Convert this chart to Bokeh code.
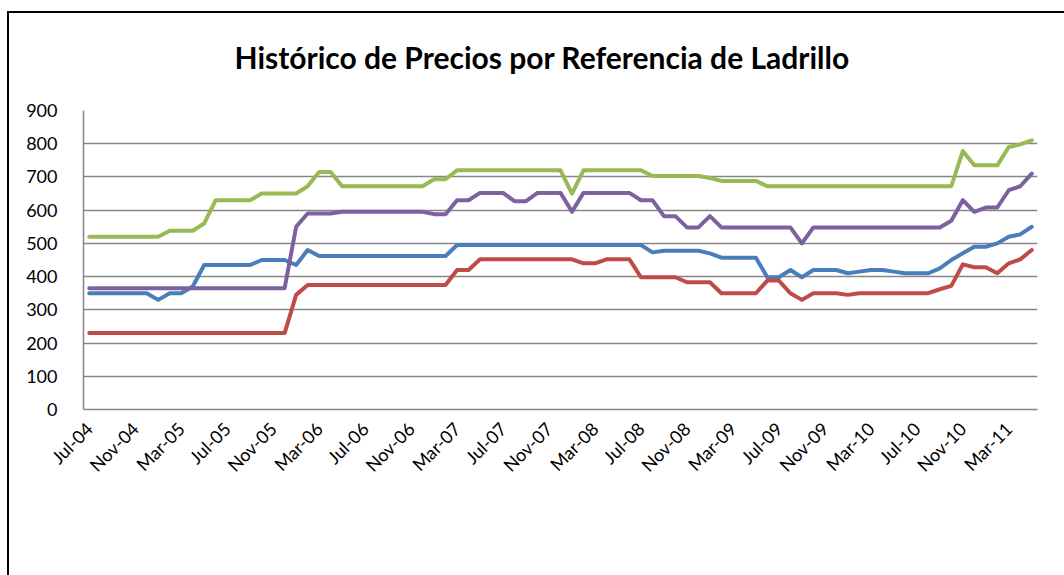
import numpy as np
from math import pi
from bokeh.plotting import figure
from bokeh.models import FixedTicker, Range1d, Legend, LegendItem, ColumnDataSource
from bokeh.embed import file_html
from bokeh.resources import INLINE

# Months Jul-04 .. May-11 (83 monthly points)
meses = [
    "Jul-04", "Ago-04", "Sep-04", "Oct-04", "Nov-04", "Dic-04",
    "Ene-05", "Feb-05", "Mar-05", "Abr-05", "May-05", "Jun-05", "Jul-05", "Ago-05", "Sep-05", "Oct-05", "Nov-05", "Dic-05",
    "Ene-06", "Feb-06", "Mar-06", "Abr-06", "May-06", "Jun-06", "Jul-06", "Ago-06", "Sep-06", "Oct-06", "Nov-06", "Dic-06",
    "Ene-07", "Feb-07", "Mar-07", "Abr-07", "May-07", "Jun-07", "Jul-07", "Ago-07", "Sep-07", "Oct-07", "Nov-07", "Dic-07",
    "Ene-08", "Feb-08", "Mar-08", "Abr-08", "May-08", "Jun-08", "Jul-08", "Ago-08", "Sep-08", "Oct-08", "Nov-08", "Dic-08",
    "Ene-09", "Feb-09", "Mar-09", "Abr-09", "May-09", "Jun-09", "Jul-09", "Ago-09", "Sep-09", "Oct-09", "Nov-09", "Dic-09",
    "Ene-10", "Feb-10", "Mar-10", "Abr-10", "May-10", "Jun-10", "Jul-10", "Ago-10", "Sep-10", "Oct-10", "Nov-10", "Dic-10",
    "Ene-11", "Feb-11", "Mar-11", "Abr-11", "May-11",
]

tick_labels = ["Jul-04", "Nov-04", "Mar-05", "Jul-05", "Nov-05", "Mar-06", "Jul-06",
               "Nov-06", "Mar-07", "Jul-07", "Nov-07", "Mar-08", "Jul-08", "Nov-08",
               "Mar-09", "Jul-09", "Nov-09", "Mar-10", "Jul-10", "Nov-10", "Mar-11"]

sencillo_primera = [
    350, 350, 350, 350, 350, 350, 330, 350, 350, 370, 435, 435, 435, 435, 435, 450, 450, 450,
    435, 480, 462, 462, 462, 462, 462, 462, 462, 462, 462, 462, 462, 462,
    495, 495, 495, 495, 495, 495, 495, 495, 495, 495, 495, 495, 495, 495, 495, 495, 495,
    473, 478, 478, 478, 478, 470, 457, 457, 457, 457, 398, 398, 420, 398, 420, 420, 420,
    410, 415, 420, 420, 415, 410, 410, 410, 425, 450, 470, 490, 490, 500, 520, 527, 550,
]

sencillo_segunda = [
    230, 230, 230, 230, 230, 230, 230, 230, 230, 230, 230, 230, 230, 230, 230, 230, 230, 230,
    345, 375, 375, 375, 375, 375, 375, 375, 375, 375, 375, 375, 375, 375,
    420, 420, 452, 452, 452, 452, 452, 452, 452, 452, 452, 440, 440, 452, 452, 452,
    398, 398, 398, 398, 383, 383, 383, 350, 350, 350, 350, 388, 388, 350, 330, 350, 350, 350,
    345, 350, 350, 350, 350, 350, 350, 350, 362, 372, 437, 428, 428, 410, 440, 452, 480,
]

tolete_primera = [
    520, 520, 520, 520, 520, 520, 520, 538, 538, 538, 560, 630, 630, 630, 630, 650, 650, 650,
    650, 672, 715, 715, 672, 672, 672, 672, 672, 672, 672, 672, 693, 693,
    720, 720, 720, 720, 720, 720, 720, 720, 720, 720, 650, 720, 720, 720, 720, 720, 720,
    703, 703, 703, 703, 703, 697, 688, 688, 688, 688,
    672, 672, 672, 672, 672, 672, 672, 672, 672, 672, 672, 672, 672, 672, 672, 672, 672,
    778, 735, 735, 735, 790, 798, 810,
]

tolete_segunda = [
    365, 365, 365, 365, 365, 365, 365, 365, 365, 365, 365, 365, 365, 365, 365, 365, 365, 365,
    550, 590, 590, 590, 595, 595, 595, 595, 595, 595, 595, 595, 588, 588,
    630, 630, 652, 652, 652, 627, 627, 652, 652, 652, 595, 652, 652, 652, 652, 652,
    630, 630, 582, 582, 548, 548, 582, 548, 548, 548, 548, 548, 548, 548, 500,
    548, 548, 548, 548, 548, 548, 548, 548, 548, 548, 548, 548, 568, 630, 595, 608, 608, 660, 672, 710,
]

series_names = ["Precio Sencillo Primera", "PrecioSencillo Segunda",
                "Precio Tolete Primera", "Precio Tolete Segunda"]
series_values = [sencillo_primera, sencillo_segunda, tolete_primera, tolete_segunda]
colors = ["#4A7EBB", "#BE4B48", "#98B954", "#7D60A0"]

FONT = "Lato"

x = list(range(len(meses)))
tick_pos = [meses.index(t) for t in tick_labels]

p = figure(frame_width=954, frame_height=299, output_backend="svg", toolbar_location=None,
           x_range=Range1d(-0.5, len(meses) - 0.5), y_range=Range1d(0, 900),
           min_border_left=83, min_border_right=27, min_border_top=0, min_border_bottom=0)

p.title.text = "Histórico de Precios por Referencia de Ladrillo"
p.title.align = "left"
p.title.offset = 151
p.title.text_font = FONT
p.title.text_font_size = "30px"
p.title.text_font_style = "bold"
p.title.text_color = "#000000"
p.title.standoff = 72

p.outline_line_color = None
p.background_fill_color = "white"
p.border_fill_alpha = 0

# Axes
p.xaxis.ticker = FixedTicker(ticks=tick_pos)
p.xaxis.major_label_overrides = {pos: lab for pos, lab in zip(tick_pos, tick_labels)}
p.xaxis.major_label_orientation = pi / 4
p.yaxis.ticker = FixedTicker(ticks=list(range(0, 901, 100)))
for ax in (p.xaxis, p.yaxis):
    ax.axis_line_color = "#868686"
    ax.axis_line_width = 1.5
    ax.major_tick_line_color = None
    ax.minor_tick_line_color = None
    ax.major_label_text_font = FONT
    ax.major_label_text_font_size = "18px"
    ax.major_label_text_color = "#000000"
p.yaxis.major_label_standoff = 20
p.xaxis.major_label_standoff = 10

p.xgrid.grid_line_color = None
p.ygrid.grid_line_color = "#868686"
p.ygrid.grid_line_width = 1.3

items = []
for name, vals, col in zip(series_names, series_values, colors):
    src = ColumnDataSource(dict(x=x, y=vals))
    r = p.line("x", "y", source=src, line_color=col, line_width=4, line_join="round", line_cap="round")
    items.append(LegendItem(label=name, renderers=[r]))

legend = Legend(items=items, orientation="horizontal", location="top_center",
                label_text_font=FONT, label_text_font_size="19px", label_text_color="#000000",
                glyph_width=40, glyph_height=20, label_standoff=4, spacing=24,
                border_line_color=None, background_fill_alpha=0, margin=48, padding=0)
p.add_layout(legend, "below")

# chart-area border (top and left edges visible in the window)
p.styles = {
    "background-color": "white",
    "background-image": "linear-gradient(#000, #000), linear-gradient(#000, #000)",
    "background-repeat": "no-repeat",
    "background-size": "100% 2px, 2px 100%",
    "background-position": "7px 11px, 7px 11px",
}

open("out.html", "w").write(file_html(p, INLINE))
